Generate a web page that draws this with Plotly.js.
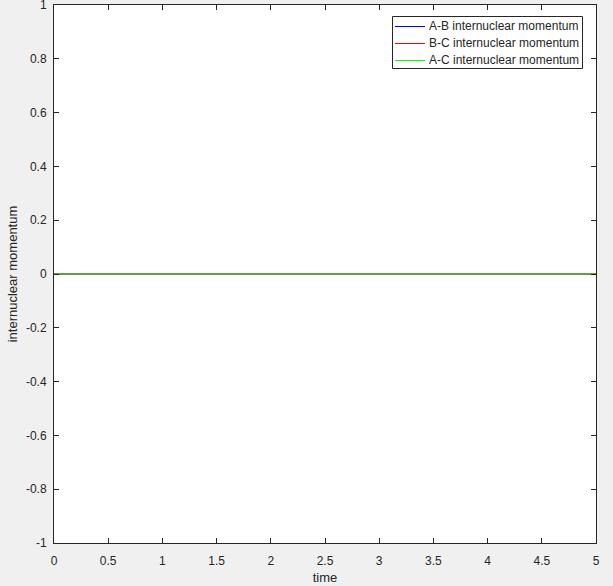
<!DOCTYPE html>
<html>
<head>
<meta charset="utf-8">
<script src="https://cdn.plot.ly/plotly-3.0.1.min.js"></script>
<style>
html,body{margin:0;padding:0;background:#f0f0f0;}
#chart{width:613px;height:586px;}
</style>
</head>
<body>
<div id="chart"></div>
<script>
var time = [0, 0.5, 1, 1.5, 2, 2.5, 3, 3.5, 4, 4.5, 5];
var abMomentum = [0, 0, 0, 0, 0, 0, 0, 0, 0, 0, 0];
var bcMomentum = [0, 0, 0, 0, 0, 0, 0, 0, 0, 0, 0];
var acMomentum = [0, 0, 0, 0, 0, 0, 0, 0, 0, 0, 0];
var seriesNames = ['A-B internuclear momentum', 'B-C internuclear momentum', 'A-C internuclear momentum'];
var xTicks = [0, 0.5, 1, 1.5, 2, 2.5, 3, 3.5, 4, 4.5, 5];
var xTickLabels = ['0', '0.5', '1', '1.5', '2', '2.5', '3', '3.5', '4', '4.5', '5'];
var yTicks = [-1, -0.8, -0.6, -0.4, -0.2, 0, 0.2, 0.4, 0.6, 0.8, 1];
var yTickLabels = ['-1', '-0.8', '-0.6', '-0.4', '-0.2', '0', '0.2', '0.4', '0.6', '0.8', '1'];

var colors = ['#0000ff', '#ff0000', '#00ff00'];
var ys = [abMomentum, bcMomentum, acMomentum];
var traces = ys.map(function (y, i) {
  return {
    x: time, y: y, type: 'scatter', mode: 'lines',
    name: seriesNames[i],
    line: {color: colors[i], width: 1},
    showlegend: false
  };
});

var fontFam = 'Liberation Sans, Arial, Helvetica, sans-serif';
var txtColor = '#262626';
var axisCommon = {
  showgrid: false, zeroline: false,
  showline: true, linecolor: txtColor, linewidth: 1,
  mirror: 'ticks', ticks: 'inside', ticklen: 5, tickwidth: 1, tickcolor: txtColor,
  ticklabeloverflow: 'allow',
  tickfont: {family: fontFam, size: 12, color: txtColor}
};

// Legend box (MATLAB style), placed in paper coordinates
var L = 54, T = 5, W = 542, H = 538;
function px(x) { return (x - L) / W; }
function py(y) { return 1 - (y - T) / H; }
var shapes = [{
  type: 'rect', xref: 'paper', yref: 'paper',
  x0: px(392.5), x1: px(582.5), y0: py(16.5), y1: py(68.5),
  fillcolor: '#ffffff', line: {color: txtColor, width: 1}
}];
var annotations = [];
var rowY = [26.5, 43.5, 60.5];
seriesNames.forEach(function (name, i) {
  shapes.push({
    type: 'line', xref: 'paper', yref: 'paper',
    x0: px(395), x1: px(425), y0: py(rowY[i]), y1: py(rowY[i]),
    line: {color: colors[i], width: 1}
  });
  annotations.push({
    xref: 'paper', yref: 'paper', x: px(427), y: py(rowY[i] - 0.5),
    xanchor: 'left', yanchor: 'middle', showarrow: false,
    text: name, font: {family: fontFam, size: 12, color: txtColor}
  });
});

var layout = {
  width: 613, height: 586,
  paper_bgcolor: '#f0f0f0', plot_bgcolor: '#ffffff',
  margin: {l: 54, r: 17, t: 5, b: 43},
  showlegend: false,
  shapes: shapes,
  annotations: annotations,
  xaxis: Object.assign({}, axisCommon, {
    range: [0, 5], tickmode: 'array', tickvals: xTicks, ticktext: xTickLabels,
    ticklabelstandoff: 7,
    title: {text: 'time', font: {family: fontFam, size: 13, color: txtColor}, standoff: 5}
  }),
  yaxis: Object.assign({}, axisCommon, {
    range: [-1, 1], tickmode: 'array', tickvals: yTicks, ticktext: yTickLabels,
    ticklabelstandoff: 4,
    title: {text: 'internuclear momentum', font: {family: fontFam, size: 13, color: txtColor}, standoff: 5}
  })
};

Plotly.newPlot('chart', traces, layout, {displayModeBar: false, staticPlot: true});
</script>
</body>
</html>
